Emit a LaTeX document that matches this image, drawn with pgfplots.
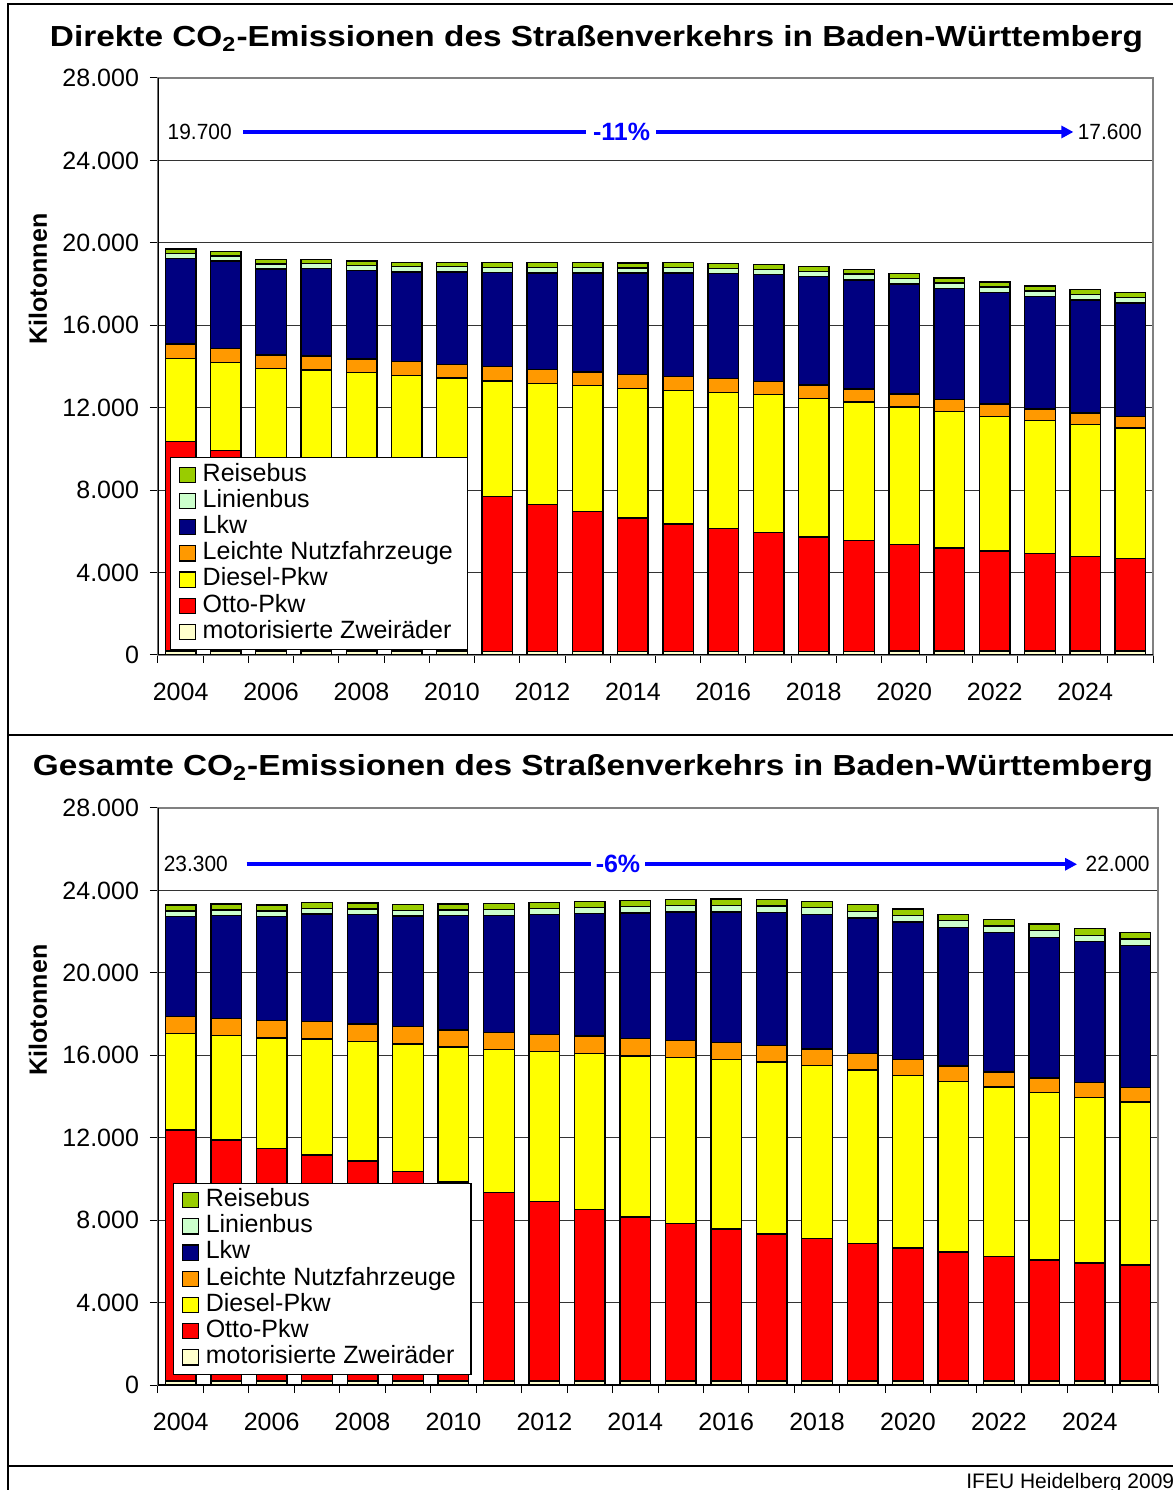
\documentclass[border=0pt]{standalone}
\usepackage{fontspec}
\setmainfont{Liberation Sans}
\usepackage{graphicx}
\usepackage{pgfplots}
\pgfplotsset{compat=1.18}
\usepackage{pgfplotstable}
\usetikzlibrary{arrows.meta}

\definecolor{cZ}{HTML}{FFFFCC}
\definecolor{cO}{HTML}{FF0000}
\definecolor{cD}{HTML}{FFFF00}
\definecolor{cL}{HTML}{FF9900}
\definecolor{cK}{HTML}{000080}
\definecolor{cLi}{HTML}{CCFFCC}
\definecolor{cR}{HTML}{99CC00}
\definecolor{cBlue}{HTML}{0000FF}

\pgfplotstableread{
x Z O D L K Li R
0 190 10160 4030 710 4140 260 210
1 190 9730 4270 690 4240 240 210
2 190 9360 4340 670 4170 240 210
3 190 9070 4570 680 4240 240 210
4 190 8810 4700 660 4310 240 210
5 190 8400 4980 680 4340 260 210
6 190 7950 5300 660 4490 260 210
7 180 7520 5600 690 4570 250 230
8 180 7130 5860 690 4670 270 240
9 180 6790 6100 660 4800 270 240
10 180 6470 6290 680 4910 250 240
11 180 6180 6480 680 5010 270 240
12 180 5950 6620 680 5080 250 250
13 180 5760 6690 650 5180 260 220
14 180 5550 6730 640 5260 260 220
15 180 5370 6730 630 5290 280 220
16 190 5180 6660 640 5330 270 240
17 190 5000 6620 600 5380 260 240
18 190 4860 6530 600 5420 260 240
19 190 4730 6450 570 5470 250 250
20 190 4600 6400 550 5490 260 240
21 190 4500 6330 550 5510 260 240
}\direkt

\pgfplotstableread{
x Z O D L K Li R
0 190 12180 4700 800 4860 270 290
1 190 11700 5080 820 4990 270 290
2 190 11280 5370 840 5050 270 290
3 190 10970 5630 860 5210 270 290
4 190 10680 5810 840 5310 270 290
5 190 10180 6180 840 5360 280 300
6 190 9660 6550 830 5540 280 290
7 190 9160 6920 840 5670 300 290
8 190 8710 7280 840 5810 280 290
9 190 8330 7580 840 5940 300 290
10 190 7960 7820 850 6080 310 310
11 190 7640 8050 850 6220 320 300
12 190 7380 8230 810 6340 330 300
13 190 7140 8340 810 6440 330 300
14 200 6900 8400 810 6510 340 310
15 200 6660 8430 790 6580 330 320
16 200 6450 8380 770 6670 320 310
17 200 6250 8290 740 6730 320 310
18 200 6040 8220 730 6780 310 320
19 200 5870 8120 710 6820 330 320
20 200 5720 8020 730 6840 310 320
21 200 5620 7910 700 6910 310 300
}\gesamt

\pgfplotsset{
  co2/.style={
    scale only axis,
    ybar stacked,
    bar width=15.3pt,
    height=288.5pt,
    xmin=-0.5, xmax=21.5,
    ymin=0, ymax=28000,
    xtick={0,2,4,6,8,10,12,14,16,18,20},
    xticklabels={2004,2006,2008,2010,2012,2014,2016,2018,2020,2022,2024},
    minor xtick={-0.5,0.5,...,21.5},
    ytick={0,4000,8000,12000,16000,20000,24000,28000},
    scaled y ticks=false,
    /pgf/number format/1000 sep={.},
    /pgf/number format/assume math mode=true,
    tick pos=left,
    tick align=outside,
    major tick length=4pt,
    minor tick length=4pt,
    major x tick style={draw=none},
    tick style={black, line width=0.5pt},
    ticklabel style={font=\fontsize{12.5}{15}\selectfont},
    xticklabel style={yshift=-6.5pt},
    yticklabel style={xshift=-2pt},
    axis line style={draw=gray, line width=0.6pt},
    ymajorgrids,
    major grid style={black!80, line width=0.5pt},
    reverse legend,
    legend image code/.code={\draw[#1, line width=0.6pt] (0pt,-3.8pt) rectangle (8pt,3.8pt);},
    legend cell align=left,
    legend style={draw=black, line width=0.6pt, fill=white,
      font=\fontsize{12.5}{13}\selectfont,
      inner xsep=4pt, inner ysep=2pt, column sep=0pt, row sep=0pt,
      nodes={inner xsep=3.5pt, inner ysep=0.7pt, text height=9pt, text depth=2.7pt}},
    every axis plot/.append style={draw=black, line width=0.7pt},
  }
}

\newcommand{\bars}[1]{%
  \addplot[fill=cZ] table[x=x,y=Z]{#1};
  \addlegendentry{motorisierte Zweiräder}
  \addplot[fill=cO] table[x=x,y=O]{#1};
  \addlegendentry{Otto-Pkw}
  \addplot[fill=cD] table[x=x,y=D]{#1};
  \addlegendentry{Diesel-Pkw}
  \addplot[fill=cL] table[x=x,y=L]{#1};
  \addlegendentry{Leichte Nutzfahrzeuge}
  \addplot[fill=cK] table[x=x,y=K]{#1};
  \addlegendentry{Lkw}
  \addplot[fill=cLi] table[x=x,y=Li]{#1};
  \addlegendentry{Linienbus}
  \addplot[fill=cR] table[x=x,y=R]{#1};
  \addlegendentry{Reisebus}
}

\begin{document}
\begin{tikzpicture}
\useasboundingbox (0,0) rectangle (586.5pt,745pt);
\clip (0,0) rectangle (586.5pt,745pt);

% frame
\draw[line width=1.1pt] (4pt,0) -- (4pt,742.8pt) -- (590pt,742.8pt);
\draw[line width=1.1pt] (4pt,377.5pt) -- (590pt,377.5pt);
\draw[line width=1.1pt] (4pt,12pt) -- (590pt,12pt);

% titles
\node[anchor=base, inner sep=0pt] at (298.25pt,721.5pt)
  {\resizebox{546.5pt}{\height}{\fontsize{14.5}{17}\selectfont\bfseries Direkte CO\textsubscript{2}-Emissionen des Straßenverkehrs in Baden-Württemberg}};
\node[anchor=base, inner sep=0pt] at (296.5pt,357pt)
  {\resizebox{560pt}{\height}{\fontsize{14.5}{17}\selectfont\bfseries Gesamte CO\textsubscript{2}-Emissionen des Straßenverkehrs in Baden-Württemberg}};

% y labels
\node[rotate=90, font=\fontsize{12.5}{15}\selectfont\bfseries] at (19pt,605.5pt) {Kilotonnen};
\node[rotate=90, font=\fontsize{12.5}{15}\selectfont\bfseries] at (19pt,240pt) {Kilotonnen};

% footer
\node[anchor=base west, inner sep=0pt, font=\fontsize{10.5}{12}\selectfont] at (483pt,1pt) {IFEU Heidelberg 2009};

% top axis
\begin{axis}[co2, width=497.5pt, at={(79pt,417.5pt)}, anchor=south west,
  legend style={at={(0.012,0.009)}, anchor=south west}]
\bars{\direkt}
\draw[black, line width=0.6pt] (rel axis cs:0,0) -- (rel axis cs:0,1);
\draw[black, line width=0.6pt] (rel axis cs:0,0) -- (rel axis cs:1,0);
\draw[cBlue, line width=2pt] (axis cs:1.39,25380) -- (axis cs:8.97,25380);
\draw[cBlue, line width=2pt, -{Triangle[length=6pt,width=6pt]}] (axis cs:10.52,25380) -- (axis cs:19.74,25380);
\node[text=cBlue, inner sep=0pt, font=\fontsize{12.5}{15}\selectfont\bfseries] at (axis cs:9.75,25380) {-11\%};
\node[anchor=west, inner sep=0pt, font=\fontsize{11}{13}\selectfont] at (axis cs:-0.294,25380) {\scalebox{0.95}[1]{19.700}};
\node[anchor=west, inner sep=0pt, font=\fontsize{11}{13}\selectfont] at (axis cs:19.83,25380) {\scalebox{0.95}[1]{17.600}};
\end{axis}

% bottom axis
\begin{axis}[co2, width=500pt, at={(79pt,52.5pt)}, anchor=south west,
  legend style={at={(0.015,0.017)}, anchor=south west}]
\bars{\gesamt}
\draw[black, line width=0.6pt] (rel axis cs:0,0) -- (rel axis cs:0,1);
\draw[black, line width=0.6pt] (rel axis cs:0,0) -- (rel axis cs:1,0);
\draw[cBlue, line width=2pt] (axis cs:1.45,25270) -- (axis cs:9.03,25270);
\draw[cBlue, line width=2pt, -{Triangle[length=6pt,width=6pt]}] (axis cs:10.22,25270) -- (axis cs:19.72,25270);
\node[text=cBlue, inner sep=0pt, font=\fontsize{12.5}{15}\selectfont\bfseries] at (axis cs:9.62,25270) {-6\%};
\node[anchor=west, inner sep=0pt, font=\fontsize{11}{13}\selectfont] at (axis cs:-0.38,25270) {\scalebox{0.95}[1]{23.300}};
\node[anchor=west, inner sep=0pt, font=\fontsize{11}{13}\selectfont] at (axis cs:19.9,25270) {\scalebox{0.95}[1]{22.000}};
\end{axis}
\end{tikzpicture}
\end{document}
